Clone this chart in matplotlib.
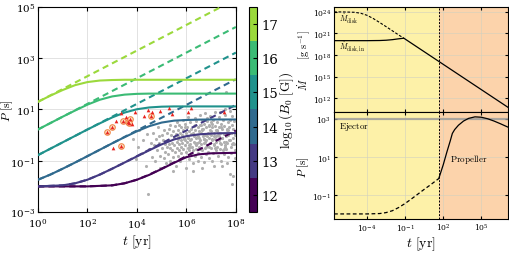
import matplotlib
matplotlib.use("Agg")
import matplotlib.pyplot as plt
import numpy as np
from matplotlib.cm import ScalarMappable
from matplotlib.colors import BoundaryNorm, ListedColormap
from matplotlib.ticker import NullLocator

plt.rcParams["mathtext.fontset"] = "cm"
plt.rcParams["font.family"] = "serif"
plt.rcParams["font.serif"] = ["DejaVu Serif"]

# ---- left panel: P(t) tracks, log10 values read on a half-decade grid ----
log_t_grid = [0.0, 0.5, 1.0, 1.5, 2.0, 2.5, 3.0, 3.5, 4.0, 4.5, 5.0, 5.5, 6.0, 6.5, 7.0, 7.5, 8.0]
log_B0 = [12, 13, 14, 15, 16, 17]

# with field decay (solid)
logP_decay_B12 = [-2.00, -2.00, -2.00, -2.00, -2.00, -1.98, -1.96, -1.88, -1.74, -1.55, -1.32, -1.08, -0.86, -0.75, -0.71, -0.70, -0.69]
logP_decay_B13 = [-2.00, -1.98, -1.96, -1.88, -1.74, -1.54, -1.31, -1.07, -0.83, -0.59, -0.36, -0.17, -0.04, 0.03, 0.06, 0.075, 0.08]
logP_decay_B14 = [-1.74, -1.54, -1.31, -1.07, -0.82, -0.57, -0.32, -0.08, 0.15, 0.35, 0.49, 0.565, 0.59, 0.605, 0.61, 0.61, 0.61]
logP_decay_B15 = [-0.78, -0.53, -0.28, -0.03, 0.22, 0.46, 0.69, 0.88, 1.01, 1.08, 1.11, 1.12, 1.12, 1.12, 1.12, 1.12, 1.12]
logP_decay_B16 = [0.22, 0.47, 0.72, 0.96, 1.19, 1.38, 1.51, 1.58, 1.61, 1.62, 1.62, 1.62, 1.62, 1.62, 1.62, 1.62, 1.62]
logP_decay_B17 = [1.30, 1.54, 1.76, 1.95, 2.07, 2.13, 2.15, 2.16, 2.16, 2.16, 2.16, 2.16, 2.16, 2.16, 2.16, 2.16, 2.16]

# constant field (dashed)
logP_const_B12 = [-2.00, -2.00, -2.00, -2.00, -2.00, -1.98, -1.96, -1.88, -1.74, -1.54, -1.31, -1.07, -0.82, -0.57, -0.32, -0.07, 0.18]
logP_const_B13 = [-2.00, -1.98, -1.96, -1.88, -1.74, -1.54, -1.31, -1.07, -0.82, -0.57, -0.32, -0.07, 0.18, 0.43, 0.68, 0.93, 1.18]
logP_const_B14 = [-1.74, -1.54, -1.31, -1.07, -0.82, -0.57, -0.32, -0.07, 0.18, 0.43, 0.68, 0.93, 1.18, 1.43, 1.68, 1.93, 2.18]
logP_const_B15 = [-0.78, -0.53, -0.28, -0.03, 0.22, 0.47, 0.72, 0.97, 1.22, 1.47, 1.72, 1.97, 2.22, 2.47, 2.72, 2.97, 3.22]
logP_const_B16 = [0.22, 0.47, 0.72, 0.97, 1.22, 1.47, 1.72, 1.97, 2.22, 2.47, 2.72, 2.97, 3.22, 3.47, 3.72, 3.97, 4.22]
logP_const_B17 = [1.30, 1.55, 1.80, 2.05, 2.30, 2.55, 2.80, 3.05, 3.30, 3.55, 3.80, 4.05, 4.30, 4.55, 4.80, 5.05, 5.30]

# pulsar population (grey), log10 t [yr], log10 P [s]
psr_log_t = [
    3.85, 3.95, 4.05, 4.1, 4.2, 4.25, 4.35, 4.4, 4.45, 4.5, 4.55, 4.6,
    4.65, 4.7, 4.72, 4.78, 4.8, 4.85, 4.9, 4.92, 4.95, 5.0, 5.02, 5.05, 5.08, 5.1, 5.12, 5.15, 5.18, 5.2, 5.2, 4.88,
    5.25, 5.27, 5.3, 5.32, 5.35, 5.37, 5.4, 5.42, 5.45, 5.47, 5.5, 5.5, 5.52, 5.55, 5.57, 5.58, 5.6, 5.62, 5.64, 5.66,
    5.68, 5.7, 5.7, 5.72, 5.74, 5.75, 5.77, 5.78, 5.8, 5.8, 5.35, 5.45, 5.6, 5.28, 5.65,
    5.82, 5.84, 5.86, 5.88, 5.9, 5.92, 5.94, 5.96, 5.98, 6.0, 6.0, 6.02, 6.04, 6.06, 6.08, 6.1, 6.12, 6.14, 6.16, 6.18,
    6.2, 6.2, 6.22, 6.24, 6.26, 6.28, 6.3, 6.3, 6.32, 6.34, 6.36, 6.38, 6.4, 6.4, 6.42, 6.44, 6.46, 6.48, 6.5, 6.5,
    5.85, 6.05, 6.25, 6.35, 6.45, 5.95, 6.15, 6.33, 6.12, 5.9,
    6.52, 6.54, 6.56, 6.58, 6.6, 6.6, 6.62, 6.64, 6.66, 6.68, 6.7, 6.7, 6.72, 6.74, 6.76, 6.78, 6.8, 6.8, 6.82, 6.84,
    6.86, 6.88, 6.9, 6.9, 6.92, 6.94, 6.96, 6.98, 7.0, 7.0, 7.02, 7.04, 7.06, 7.08, 7.1, 7.1, 7.12, 7.14, 7.16, 7.18,
    7.2, 7.2, 6.55, 6.75, 6.95, 7.15, 6.65, 6.85, 7.05, 6.63, 6.83, 7.03, 6.73, 6.93, 7.13,
    7.22, 7.24, 7.26, 7.28, 7.3, 7.3, 7.32, 7.34, 7.36, 7.38, 7.4, 7.4, 7.42, 7.44, 7.46, 7.48, 7.5, 7.5, 7.52, 7.54,
    7.56, 7.58, 7.6, 7.6, 7.62, 7.64, 7.66, 7.68, 7.7, 7.7, 7.72, 7.74, 7.76, 7.78, 7.8, 7.8, 7.82, 7.84, 7.86, 7.88,
    7.9, 7.9, 7.92, 7.94, 7.96, 7.98, 7.35, 7.55, 7.75, 7.45, 7.65, 7.25, 7.85, 7.95, 7.33,
    # denser core
    6.05, 6.15, 6.25, 6.35, 6.45, 6.55, 6.65, 6.75, 6.85, 6.95, 7.05, 7.15, 7.25, 7.35, 7.45, 7.55, 7.65, 7.75, 7.85, 7.95,
    6.1, 6.3, 6.5, 6.7, 6.9, 7.1, 7.3, 7.5, 7.7, 7.9, 5.95, 6.2, 6.4, 6.6, 6.8, 7.0, 7.2, 7.4, 7.6, 7.8,
]
psr_log_P = [
    -0.15, -0.95, -0.45, 0.2, -0.7, -0.2, -1.2, 0.05, -2.3, -0.55, -0.3, -0.85,
    0.1, -0.4, -1.0, -0.15, -0.6, 0.3, -0.3, -0.8, -1.3, 0.0, -0.5, -0.2, -0.9, 0.2, -0.65, -0.35, -1.1, 0.1, -0.45, -0.05,
    -0.75, -0.2, 0.25, -0.5, -1.0, 0.0, -0.3, -0.6, 0.15, -0.85, -0.1, -0.4, 0.35, -0.65, -1.2, 0.05, -0.25, -0.5, 0.2, -0.8,
    -0.05, -0.35, 0.4, -0.6, -1.0, 0.1, -0.2, -0.45, 0.3, -0.7, 0.4, -1.4, 0.5, -0.35, -0.15,
    0.0, -0.3, -0.55, 0.2, -0.85, -0.15, 0.45, -0.4, -1.3, 0.1, -0.65, -0.25, 0.3, -0.5, -0.05, -0.95, 0.15, -0.35, 0.5, -0.7,
    -0.15, 0.25, -0.45, 0.05, -0.6, -1.1, 0.35, -0.25, -0.05, -0.8, 0.2, -0.4, 0.55, -0.55, 0.0, -0.3, 0.3, -0.7, -0.1, 0.15,
    0.6, 0.7, -1.4, 0.65, -1.0, 0.3, -0.2, 0.4, -0.6, -0.1,
    -0.45, 0.4, -0.2, -0.85, 0.1, -0.35, 0.6, -0.6, -0.05, 0.25, -1.05, -0.3, 0.45, -0.5, 0.0, -0.75, 0.3, -0.2, 0.65, -0.4,
    0.1, -0.65, -0.1, 0.4, -0.9, 0.2, -0.3, 0.5, -0.5, 0.0, 0.3, -0.2, -0.7, 0.6, 0.1, -0.4, -1.2, 0.35, -0.15, -0.6,
    0.2, -0.25, 0.8, 0.85, 0.75, 0.9, -1.3, 0.55, -1.0, 0.25, -0.05, 0.45, -0.15, -0.45, -0.05,
    0.5, -0.45, 0.0, -0.8, 0.3, -0.2, 0.7, -0.55, 0.1, -0.35, 0.45, -1.0, -0.1, 0.25, -0.6, 0.6, -0.25, 0.05, -0.75, 0.35,
    -0.4, 0.8, -0.05, 1.7, -0.55, 0.2, -0.3, 0.5, -0.85, 0.0, 0.3, -0.2, -1.5, 0.6, -0.45, 0.1, -0.7, 0.4, -1.9, -0.1,
    0.25, -1.6, -0.35, 0.55, -0.6, 0.05, 0.9, 1.0, 0.95, -1.2, -1.1, 0.2, 0.75, -0.9, -0.05,
    -0.1, -0.45, 0.1, -0.3, -0.05, -0.55, 0.2, -0.25, -0.4, 0.05, -0.15, -0.5, 0.15, -0.3, -0.1, -0.45, 0.25, -0.2, -0.35, 0.0,
    -0.4, 0.0, -0.25, -0.15, 0.35, -0.35, 0.1, -0.55, 0.2, -0.3, -0.2, 0.05, -0.1, 0.4, -0.45, 0.15, -0.05, 0.3, -0.25, 0.1,
]

# magnetars (red), circled ones separately
mag_ring_log_t = [2.80, 2.99, 3.36, 3.44, 3.62, 3.73, 3.69, 4.58]
mag_ring_log_P = [0.14, 0.31, -0.41, 0.57, 0.53, 0.63, 0.48, 0.74]
mag_log_t = [3.04, 3.14, 3.36, 3.54, 3.82, 3.94, 4.29, 4.43, 4.60, 4.92, 5.31, 5.43, 6.06, 6.18, 7.52]
mag_log_P = [-0.50, 0.57, 0.86, 0.71, 0.44, 0.91, 0.75, 0.98, 0.90, 0.95, 1.06, 0.83, 0.90, 1.06, 0.90]

# ---- right panel: accretion rate and period of one source ----
mdot_disk_log_t = [-6.6, -6.0, -5.5, -5.0, -4.5, -4.0, -3.5, -3.0, -2.5, -2.0, -1.5, -1.1]
mdot_disk_log = [24.0, 24.0, 23.98, 23.95, 23.82, 23.53, 23.07, 22.52, 21.95, 21.37, 20.78, 20.34]
mdot_in_log_t = [-6.6, -4.0, -3.0, -2.5, -2.0, -1.5, -1.1, 7.1]
mdot_in_log = [20.0, 20.0, 20.02, 20.06, 20.14, 20.26, 20.34, 10.72]

period_ej_log_t = [-6.6, -5.0, -4.0, -3.0, -2.5, -2.0, -1.5, -1.0, -0.5, 0.0, 0.5, 1.0, 1.65]
period_ej_log = [-1.98, -1.98, -1.98, -1.96, -1.91, -1.81, -1.64, -1.43, -1.19, -0.94, -0.69, -0.45, -0.12]
period_pr_log_t = [1.65, 2.0, 2.3, 2.55, 2.72, 2.9, 3.2, 3.6, 4.0, 4.5, 5.0, 5.5, 6.0, 6.5, 7.1]
period_pr_log = [-0.12, 0.6, 1.3, 1.85, 2.25, 2.45, 2.68, 2.9, 3.04, 3.12, 3.1, 3.02, 2.9, 2.76, 2.58]
t_switch = 10 ** 1.65


def p10(v):
    return 10.0 ** np.asarray(v, dtype=float)


fig = plt.figure(figsize=(5.1, 2.55), dpi=100)
ax = fig.add_axes([0.0745, 0.1647, 0.388, 0.804])
cax = fig.add_axes([0.488, 0.1647, 0.0157, 0.804])
ax_m = fig.add_axes([0.655, 0.555, 0.341, 0.414])
ax_p = fig.add_axes([0.655, 0.137, 0.341, 0.418], sharex=ax_m)

cols = plt.get_cmap("viridis")(np.linspace(0.0, 0.85, 6))
cmap = ListedColormap(cols)
norm = BoundaryNorm(np.arange(11.5, 18.0, 1.0), 6)

decay = [logP_decay_B12, logP_decay_B13, logP_decay_B14, logP_decay_B15, logP_decay_B16, logP_decay_B17]
const = [logP_const_B12, logP_const_B13, logP_const_B14, logP_const_B15, logP_const_B16, logP_const_B17]
tt = p10(log_t_grid)

ax.scatter(p10(psr_log_t), p10(psr_log_P), s=5, c="#b0b0b0", lw=0, zorder=2)
for b, sol, dsh in zip(log_B0, decay, const):
    c = cmap(norm(b))
    ax.plot(tt, p10(dsh), color=c, lw=1.5, dashes=(3, 2), zorder=3)
    ax.plot(tt, p10(sol), color=c, lw=1.5, zorder=4)

ax.scatter(p10(mag_ring_log_t), p10(mag_ring_log_P), s=16, facecolor="#fde2c8",
           edgecolor="#f08a4b", lw=0.8, zorder=5)
ax.scatter(p10(mag_ring_log_t + mag_log_t), p10(mag_ring_log_P + mag_log_P),
           s=7, marker="^", c="#e8231e", lw=0, zorder=6)

ax.set_xscale("log")
ax.set_yscale("log")
ax.set_xlim(1, 1e8)
ax.set_ylim(1e-3, 1e5)
ax.set_xticks([1e0, 1e2, 1e4, 1e6, 1e8])
ax.set_yticks([1e-3, 1e-1, 1e1, 1e3, 1e5])
ax.xaxis.set_minor_locator(NullLocator())
ax.yaxis.set_minor_locator(NullLocator())
ax.grid(True, color="#dddddd", lw=0.6, zorder=0)
ax.tick_params(direction="in", top=True, right=True, labelsize=7.5, length=3, pad=2)
ax.tick_params(axis="x", pad=3.5)
ax.set_xlabel(r"$t\ [\mathrm{yr}]$", fontsize=10, labelpad=1)
ax.set_ylabel(r"$P\ [\mathrm{s}]$", fontsize=8.5)
ax.yaxis.set_label_coords(-0.118, 0.5)

sm = ScalarMappable(norm=norm, cmap=cmap)
cb = fig.colorbar(sm, cax=cax, ticks=log_B0)
cb.ax.tick_params(direction="in", labelsize=9.5, length=3, width=0.8, pad=3)
cb.set_label(r"$\log_{10}(B_0\ [\mathrm{G}])$", fontsize=9.5, labelpad=0)
cb.ax.yaxis.set_minor_locator(NullLocator())

# right panel
for a in (ax_m, ax_p):
    a.axvspan(1e-7, t_switch, color="#fdf1a8", lw=0, zorder=0)
    a.axvspan(t_switch, 1e8, color="#fcd3ab", lw=0, zorder=0)
    a.axvline(t_switch, color="k", lw=0.7, ls=(0, (2, 1.5)), zorder=3)
    a.set_xscale("log")
    a.set_yscale("log")
    a.grid(True, color="#d0d0c0", lw=0.5, alpha=0.8)
    a.tick_params(direction="in", top=True, right=True, labelsize=5.5, length=2.5, pad=2)
    a.xaxis.set_minor_locator(NullLocator())
    a.yaxis.set_minor_locator(NullLocator())

ax_m.plot(p10(mdot_disk_log_t), p10(mdot_disk_log), color="k", lw=0.8, ls=(0, (2.5, 1.5)))
ax_m.plot(p10(mdot_in_log_t), p10(mdot_in_log), color="k", lw=0.9)
ax_m.set_xlim(10 ** -6.6, 10 ** 7.1)
ax_m.set_ylim(1e10, 10 ** 24.7)
ax_m.set_yticks([1e12, 1e15, 1e18, 1e21, 1e24])
ax_m.yaxis.set_minor_locator(NullLocator())
ax_m.tick_params(labelbottom=False)
ax_m.set_ylabel(r"$\dot{M}\qquad\ [\mathrm{g\ s^{-1}}]$", fontsize=7.5, labelpad=1)
ax_m.text(10 ** -6.2, 10 ** 22.6, r"$\dot{M}_{\rm disk}$", fontsize=5.5)
ax_m.text(10 ** -6.2, 10 ** 18.9, r"$\dot{M}_{\rm disk,in}$", fontsize=5.5)

ax_p.axhline(1e3, color="#9a9a9a", lw=1.6, alpha=0.8, zorder=2)
ax_p.plot(p10(period_ej_log_t), p10(period_ej_log), color="k", lw=0.9, ls=(0, (3, 2)))
ax_p.plot(p10(period_pr_log_t), p10(period_pr_log), color="k", lw=0.9)
ax_p.set_ylim(10 ** -2.25, 10 ** 3.35)
ax_p.set_yticks([1e-1, 1e1, 1e3])
ax_p.yaxis.set_minor_locator(NullLocator())
ax_p.set_xticks([1e-4, 1e-1, 1e2, 1e5])
ax_p.xaxis.set_minor_locator(NullLocator())
ax_p.set_xlabel(r"$t\ [\mathrm{yr}]$", fontsize=10, labelpad=1)
ax_p.set_ylabel(r"$P\ [\mathrm{s}]$", fontsize=8, labelpad=1)
ax_p.text(10 ** -6.2, 10 ** 2.55, r"$\mathrm{Ejector}$", fontsize=6.5)
ax_p.text(10 ** 2.55, 10 ** 0.8, r"$\mathrm{Propeller}$", fontsize=6.5)

fig.savefig("out.png", dpi=100)
